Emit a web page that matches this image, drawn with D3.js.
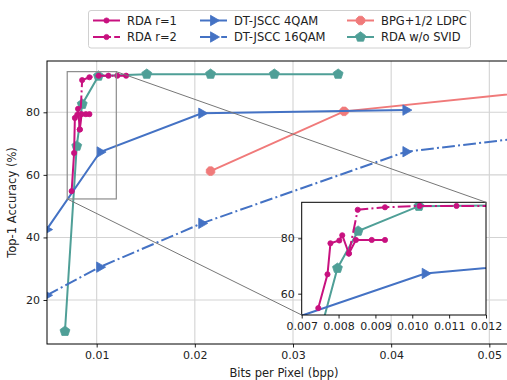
<!DOCTYPE html>
<html>
<head>
<meta charset="utf-8">
<script src="https://cdn.jsdelivr.net/npm/d3@7"></script>
<style>
  html, body { margin: 0; padding: 0; background: #fff; }
  svg { display: block; font-family: "DejaVu Sans", sans-serif; }
</style>
</head>
<body>
<svg id="chart" width="507" height="380"></svg>
<script>
// ---- data (bpp, top-1 accuracy %) ----
var rda1X = [0.00745, 0.0077, 0.00778, 0.00802, 0.0081, 0.00828, 0.00847, 0.0089, 0.00926];
var rda1Y = [54.8, 67.0, 78.2, 79.2, 81.1, 74.5, 79.4, 79.4, 79.4];
var rda2X = [0.00828, 0.00852, 0.00926, 0.0102, 0.0112, 0.0121, 0.0130];
var rda2Y = [74.5, 90.3, 91.2, 91.7, 91.7, 91.7, 91.7];
var qam4X = [0.0049, 0.01035, 0.0207, 0.0415];
var qam4Y = [42.5, 67.3, 79.7, 80.7];
var qam16X = [0.0049, 0.0103, 0.0207, 0.0415, 0.062];
var qam16Y = [21.5, 30.5, 44.5, 67.4, 75.0];
var bpgX = [0.0216, 0.0352, 0.06];
var bpgY = [61.2, 80.3, 88.4];
var svidX = [0.00677, 0.00797, 0.00853, 0.01018, 0.0151, 0.0216, 0.0281, 0.0346];
var svidY = [10.0, 69.2, 82.6, 91.6, 92.2, 92.2, 92.2, 92.2];

var xTicks = [0.01, 0.02, 0.03, 0.04, 0.05];
var yTicks = [20, 40, 60, 80];
var inXTicks = [0.007, 0.008, 0.009, 0.010, 0.011, 0.012];
var inYTicks = [60, 80];

var MAG = '#c8117f', BLUE = '#4472c4', TEAL = '#4f9f97', SALMON = '#f07a7a';

function pts(xs, ys) { return xs.map(function (x, i) { return [x, ys[i]]; }); }
var series = [
  { name: 'RDA r=1', data: pts(rda1X, rda1Y), color: MAG, dash: null, marker: 'circle', r: 2.6 },
  { name: 'RDA r=2', data: pts(rda2X, rda2Y), color: MAG, dash: '12.8,3.2,2,3.2', marker: 'circle', r: 2.6 },
  { name: 'DT-JSCC 4QAM', data: pts(qam4X, qam4Y), color: BLUE, dash: null, marker: 'tri', r: 6 },
  { name: 'DT-JSCC 16QAM', data: pts(qam16X, qam16Y), color: BLUE, dash: '12.8,3.2,2,3.2', marker: 'tri', r: 6 },
  { name: 'BPG+1/2 LDPC', data: pts(bpgX, bpgY), color: SALMON, dash: null, marker: 'oct', r: 4.6 },
  { name: 'RDA w/o SVID', data: pts(svidX, svidY), color: TEAL, dash: null, marker: 'pent', r: 5.2 }
];
// teal under the magenta lines, as in the reference
var drawOrder = [5, 4, 2, 3, 0, 1];

var svg = d3.select('#chart');

// main axes box
var M = { l: 47, r: 508, t: 61, b: 344 };
var x = d3.scaleLinear().domain([0.00494, 0.0518]).range([M.l, 507]);
var y = d3.scaleLinear().domain([5.93, 96.4]).range([M.b, M.t]);

// inset box
var I = { l: 301.7, r: 486, t: 202.3, b: 315 };
var ix = d3.scaleLinear().domain([0.007, 0.012]).range([I.l, I.r]);
var iy = d3.scaleLinear().domain([52.3, 93.0]).range([I.b, I.t]);

function polygon(n, r, rot) {
  var p = [];
  for (var k = 0; k < n; k++) {
    var a = rot + k * 2 * Math.PI / n;
    p.push([r * Math.cos(a), r * Math.sin(a)]);
  }
  return 'M' + p.map(function (q) { return q[0].toFixed(2) + ',' + q[1].toFixed(2); }).join('L') + 'Z';
}
function markerPath(type, r) {
  if (type === 'circle') return d3.symbol().type(d3.symbolCircle).size(Math.PI * r * r)();
  if (type === 'tri') return polygon(3, r, 0);
  if (type === 'pent') return polygon(5, r, -Math.PI / 2);
  return polygon(8, r, Math.PI / 8);
}

var defs = svg.append('defs');
defs.append('clipPath').attr('id', 'clipMain').append('rect')
  .attr('x', M.l).attr('y', M.t).attr('width', 507 - M.l).attr('height', M.b - M.t);
defs.append('clipPath').attr('id', 'clipInset').append('rect')
  .attr('x', I.l).attr('y', I.t).attr('width', I.r - I.l).attr('height', I.b - I.t);

// grid
var grid = svg.append('g');
grid.selectAll('.gx').data(xTicks).enter().append('line')
  .attr('x1', function (d) { return x(d); }).attr('x2', function (d) { return x(d); })
  .attr('y1', M.t).attr('y2', M.b).attr('stroke', '#d3d3d3').attr('stroke-width', 1.1);
grid.selectAll('.gy').data(yTicks).enter().append('line')
  .attr('y1', function (d) { return y(d); }).attr('y2', function (d) { return y(d); })
  .attr('x1', M.l).attr('x2', 507).attr('stroke', '#d3d3d3').attr('stroke-width', 1.1);

function drawSeries(g, sx, sy, clipId) {
  var layer = g.append('g').attr('clip-path', 'url(#' + clipId + ')');
  drawOrder.forEach(function (i) {
    var s = series[i];
    var line = d3.line().x(function (d) { return sx(d[0]); }).y(function (d) { return sy(d[1]); });
    layer.append('path').attr('d', line(s.data)).attr('fill', 'none')
      .attr('stroke', s.color).attr('stroke-width', 2).attr('stroke-dasharray', s.dash);
    layer.selectAll(null).data(s.data).enter().append('path')
      .attr('d', markerPath(s.marker, s.r))
      .attr('transform', function (d) { return 'translate(' + sx(d[0]) + ',' + sy(d[1]) + ')'; })
      .attr('fill', s.color).attr('stroke', s.color).attr('stroke-width', 0.8);
  });
}
drawSeries(svg, x, y, 'clipMain');

// main axes
svg.append('g').attr('transform', 'translate(0,' + M.b + ')')
  .call(d3.axisBottom(x).tickValues(xTicks).tickSize(3.5).tickPadding(3.5).tickFormat(d3.format('.2f')))
  .call(function (g) { g.select('.domain').remove(); });
svg.append('g').attr('transform', 'translate(' + M.l + ',0)')
  .call(d3.axisLeft(y).tickValues(yTicks).tickSize(3.5).tickPadding(3.5))
  .call(function (g) { g.select('.domain').remove(); });
svg.append('rect').attr('x', M.l).attr('y', M.t).attr('width', M.r - M.l).attr('height', M.b - M.t)
  .attr('fill', 'none').attr('stroke', '#000').attr('stroke-width', 1);

svg.selectAll('.tick text').attr('font-size', 11).attr('fill', '#222').attr('font-family', 'DejaVu Sans, sans-serif');
svg.selectAll('.tick line').attr('stroke', '#222');

svg.append('text').attr('x', (M.l + 507) / 2 + 7).attr('y', 377).attr('text-anchor', 'middle')
  .attr('font-size', 11.5).attr('fill', '#222').text('Bits per Pixel (bpp)');
svg.append('text').attr('transform', 'translate(16,' + ((M.t + M.b) / 2) + ') rotate(-90)')
  .attr('text-anchor', 'middle').attr('font-size', 11.5).attr('fill', '#222').text('Top-1 Accuracy (%)');

// zoom rectangle on main plot
svg.append('rect').attr('x', x(0.007)).attr('y', y(93.0))
  .attr('width', x(0.012) - x(0.007)).attr('height', y(52.3) - y(93.0))
  .attr('fill', 'none').attr('stroke', '#8c8c8c').attr('stroke-width', 1.2);

// inset
var ins = svg.append('g');
ins.append('rect').attr('x', I.l).attr('y', I.t).attr('width', I.r - I.l).attr('height', I.b - I.t).attr('fill', '#fff');
drawSeries(ins, ix, iy, 'clipInset');
ins.append('g').attr('transform', 'translate(0,' + I.b + ')')
  .call(d3.axisBottom(ix).tickValues(inXTicks).tickSize(3.5).tickPadding(3.5).tickFormat(d3.format('.3f')))
  .call(function (g) { g.select('.domain').remove(); });
ins.append('g').attr('transform', 'translate(' + I.l + ',0)')
  .call(d3.axisLeft(iy).tickValues(inYTicks).tickSize(3.5).tickPadding(3.5))
  .call(function (g) { g.select('.domain').remove(); });
ins.selectAll('.tick text').attr('font-size', 11).attr('fill', '#222').attr('font-family', 'DejaVu Sans, sans-serif');
ins.selectAll('.tick line').attr('stroke', '#222');
ins.append('rect').attr('x', I.l).attr('y', I.t).attr('width', I.r - I.l).attr('height', I.b - I.t)
  .attr('fill', 'none').attr('stroke', '#000').attr('stroke-width', 1);

// connector lines (rect corner -> inset corner)
svg.append('line').attr('x1', x(0.012)).attr('y1', y(93.0)).attr('x2', I.r).attr('y2', I.t)
  .attr('stroke', '#777').attr('stroke-width', 1);
svg.append('line').attr('x1', x(0.007)).attr('y1', y(52.3)).attr('x2', I.l).attr('y2', I.b)
  .attr('stroke', '#777').attr('stroke-width', 1);

// legend
var leg = svg.append('g');
leg.append('rect').attr('x', 88.5).attr('y', 10.5).attr('width', 382).attr('height', 37.5).attr('rx', 2.5)
  .attr('fill', '#fff').attr('stroke', '#d0d0d0').attr('stroke-width', 1);
var colX = [93, 200, 347], rowY = [20.5, 37];
series.forEach(function (s, i) {
  var cx = colX[Math.floor(i / 2)], cy = rowY[i % 2];
  leg.append('line').attr('x1', cx).attr('x2', cx + 27).attr('y1', cy).attr('y2', cy)
    .attr('stroke', s.color).attr('stroke-width', 2).attr('stroke-dasharray', s.dash ? '12.8,3.2,2,3.2' : null);
  leg.append('path').attr('d', markerPath(s.marker, s.r))
    .attr('transform', 'translate(' + (cx + 13.5) + ',' + cy + ')')
    .attr('fill', s.color).attr('stroke', s.color).attr('stroke-width', 0.8);
  leg.append('text').attr('x', cx + 34).attr('y', cy).attr('dy', '0.36em')
    .attr('font-size', 11.5).attr('fill', '#222').text(s.name);
});
</script>
</body>
</html>
